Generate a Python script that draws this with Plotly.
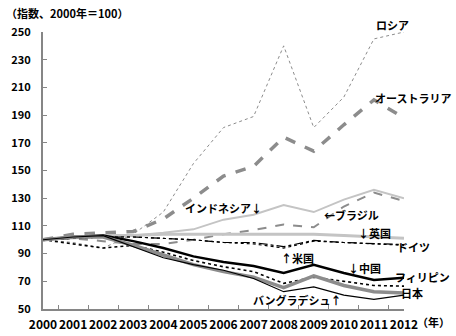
import plotly.graph_objects as go

years = [str(y) for y in range(2000, 2013)]

russia      = [100, 98, 94, 104, 120, 155, 181, 189, 240, 181, 203, 245, 250]
australia   = [100, 104, 105, 106, 115, 130, 146, 153, 174, 164, 183, 201, 188]
indonesia   = [100, 101, 102, 103, 105, 107.5, 114.5, 118, 125, 120, 129, 136, 130]
brazil      = [100, 101, 99, 97, 97, 100, 104, 107, 111, 109, 124, 134, 128]
uk          = [100, 102, 103, 103, 104, 104, 104, 104, 104, 104, 103, 102, 101]
germany     = [100, 101, 102, 102, 101, 100, 98, 98, 95, 99.5, 98, 97, 96.5]
us          = [100, 101, 102, 102, 101, 100, 98, 97, 94, 99, 98, 97, 96]
china       = [100, 102, 103, 99, 94, 88, 84, 81, 76, 82, 76, 71, 72.5]
philippines = [100, 97, 94, 96, 91, 85, 80.5, 77, 68.5, 73, 70, 67, 66.5]
japan       = [100, 102, 102, 96, 89, 82, 77, 73, 65.5, 74, 67, 62.5, 61.5]
bangladesh  = [100, 102, 103, 95, 87, 82, 78, 72, 62.5, 66, 60, 57, 60]

FONT = "Noto Sans CJK JP"

series = [
    ("ロシア", russia, "#8c8c8c", 1.0, "dot"),
    ("オーストラリア", australia, "#8c8c8c", 3.5, "dash"),
    ("インドネシア", indonesia, "#c4c4c4", 2.0, "solid"),
    ("ブラジル", brazil, "#8c8c8c", 2.0, "dash"),
    ("英国", uk, "#c4c4c4", 3.0, "solid"),
    ("ドイツ", germany, "#000000", 1.2, "dashdot"),
    ("米国", us, "#000000", 1.2, "dot"),
    ("中国", china, "#000000", 2.5, "solid"),
    ("フィリピン", philippines, "#000000", 1.6, "dot"),
    ("日本", japan, "#8c8c8c", 3.5, "solid"),
    ("バングラデシュ", bangladesh, "#000000", 1.2, "solid"),
]

fig = go.Figure()
for name, vals, color, width, dash in series:
    fig.add_trace(go.Scatter(x=years, y=vals, mode="lines", name=name,
                             line=dict(color=color, width=width, dash=dash)))

labels = [
    ("ロシア", 0.967, 1.025, "center"),
    ("オーストラリア", 1.025, 0.762, "center"),
    ("インドネシア↓", 0.50, 0.365, "center"),
    ("←ブラジル", 0.855, 0.339, "center"),
    ("↓英国", 0.917, 0.274, "center"),
    ("ドイツ", 1.025, 0.224, "center"),
    ("↑米国", 0.704, 0.184, "center"),
    ("↓中国", 0.891, 0.148, "center"),
    ("フィリピン", 1.05, 0.116, "center"),
    ("日本", 1.021, 0.058, "center"),
    ("バングラデシュ↑", 0.705, 0.032, "center"),
]
annotations = [dict(text=t, x=x, y=y, xref="paper", yref="paper", xanchor=a,
                    yanchor="middle", showarrow=False,
                    font=dict(family=FONT, size=11, color="#000000", weight="bold"))
               for t, x, y, a in labels]
annotations.append(dict(text="（指数、2000年＝100）", x=-0.108, y=1.069, xref="paper",
                        yref="paper", xanchor="left", yanchor="middle", showarrow=False,
                        font=dict(family=FONT, size=11, color="#000000", weight="bold")))
annotations.append(dict(text="（年）", x=1.03, y=-0.01, xref="paper", yref="paper",
                        xanchor="left", yanchor="top", showarrow=False,
                        font=dict(family=FONT, size=11, color="#000000", weight="bold")))

fig.update_layout(
    width=456, height=336,
    margin=dict(l=43, r=52, t=32, b=27, autoexpand=False),
    paper_bgcolor="white", plot_bgcolor="white",
    showlegend=False,
    annotations=annotations,
    font=dict(family=FONT, size=11, color="#000000"),
)
fig.update_xaxes(type="category", tickson="boundaries", ticks="inside", ticklen=4,
                 tickcolor="#868686", showline=True, linecolor="#868686", linewidth=2,
                 showgrid=False, zeroline=False, ticklabelstandoff=4, tickangle=0,
                 automargin=False,
                 tickfont=dict(family=FONT, size=12, weight="bold"))
fig.update_yaxes(range=[50, 250], dtick=20, tick0=50, ticks="inside", ticklen=4,
                 tickcolor="#868686", showline=True, linecolor="#868686", linewidth=2,
                 showgrid=False, zeroline=False, ticklabelstandoff=8, automargin=False,
                 tickfont=dict(family=FONT, size=11, weight="bold"))

fig.write_html("out.html")
